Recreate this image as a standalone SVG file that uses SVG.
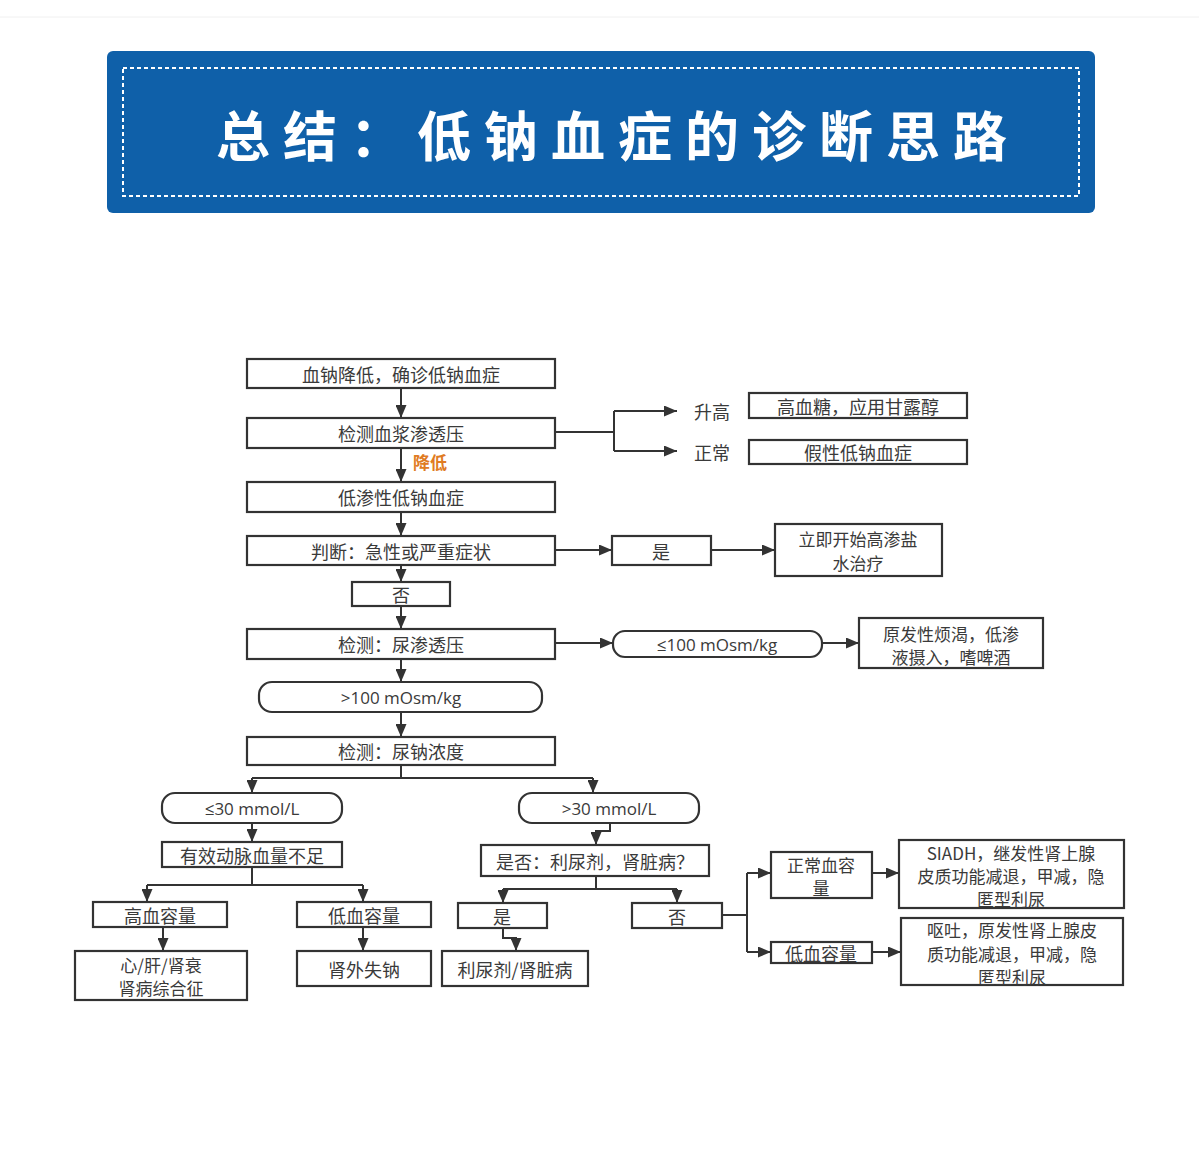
<svg xmlns="http://www.w3.org/2000/svg" width="1199" height="1171" viewBox="0 0 1199 1171">
<defs>
<marker id="ah" viewBox="0 0 13 11" refX="13" refY="5.5" markerWidth="13" markerHeight="11" markerUnits="userSpaceOnUse" orient="auto">
<path d="M0,0 L13,5.5 L0,11 Z" fill="#333"/>
</marker>
<style>
.box{fill:#fff;stroke:#333;stroke-width:2.2}
.t{font-family:"Noto Sans CJK SC","Noto Sans",sans-serif;font-size:18px;fill:#3a3a3a;text-anchor:middle;dominant-baseline:central}
.m{font-family:"Noto Sans CJK SC","Noto Sans",sans-serif;font-size:17px;fill:#3a3a3a;text-anchor:middle;dominant-baseline:central}
.l{font-family:"Open Sans","Noto Sans","Noto Sans CJK SC",sans-serif;font-size:17px;fill:#3a3a3a;text-anchor:middle;dominant-baseline:central}
.c{fill:none;stroke:#333;stroke-width:2}
.a{fill:none;stroke:#333;stroke-width:2;marker-end:url(#ah)}
</style>
</defs>
<rect width="1199" height="1171" fill="#fff"/>
<line x1="0" y1="17" x2="1199" y2="17" stroke="#f0f0f0" stroke-width="1"/>
<g id="header">
<rect x="107" y="51" width="988" height="162" rx="6" fill="#0f60a9"/>
<rect x="123" y="68" width="956" height="128" fill="none" stroke="#fff" stroke-width="2" stroke-dasharray="4 3"/>
<text x="216" y="133" font-family="'Noto Sans CJK SC',sans-serif" font-size="54" font-weight="700" fill="#fff" letter-spacing="13" dominant-baseline="central">总结：低钠血症的诊断思路</text>
</g>
<g id="connectors">
<path class="a" d="M401,388 V418"/>
<path class="a" d="M401,448 V482"/>
<path class="a" d="M401,512 V536"/>
<path class="a" d="M401,565 V582"/>
<path class="a" d="M401,606 V629"/>
<path class="a" d="M401,659 V682"/>
<path class="a" d="M401,712 V737"/>
<path class="c" d="M401,765 V778 M252,778 H593"/>
<path class="a" d="M252,778 V793"/>
<path class="a" d="M593,778 V793"/>
<path class="a" d="M252,823 V842"/>
<path class="c" d="M252,867 V885 M147,885 H363"/>
<path class="a" d="M147,885 V902"/>
<path class="a" d="M363,885 V902"/>
<path class="a" d="M163,927 V951"/>
<path class="a" d="M363,927 V951"/>
<path class="a" d="M610,823 V831 H596 V845"/>
<path class="c" d="M596,876 V889 M503,889 H677"/>
<path class="a" d="M503,889 V903"/>
<path class="a" d="M677,889 V903"/>
<path class="a" d="M503,928 V938 H516 V951"/>
<path class="c" d="M720,915 H747 M747,873 V952"/>
<path class="a" d="M747,873 H771"/>
<path class="a" d="M747,952 H771"/>
<path class="a" d="M872,873 H899"/>
<path class="a" d="M872,952 H901"/>
<path class="c" d="M555,432 H614 M614,411 V451"/>
<path class="a" d="M614,411 H677"/>
<path class="a" d="M614,451 H677"/>
<path class="a" d="M555,550 H612"/>
<path class="a" d="M711,550 H775"/>
<path class="a" d="M555,643 H613"/>
<path class="a" d="M822,643 H859"/>
</g>
<g id="n1"><rect class="box" x="247" y="359" width="308" height="29"/><text class="t" x="401" y="373.5">血钠降低，确诊低钠血症</text></g>
<g id="n2"><rect class="box" x="247" y="418" width="308" height="30"/><text class="t" x="401" y="433">检测血浆渗透压</text></g>
<g id="lbl-down"><text x="413" y="461" font-family="'Noto Sans CJK SC',sans-serif" font-size="17" font-weight="700" fill="#e07b22" dominant-baseline="central">降低</text></g>
<g id="n3"><rect class="box" x="247" y="482" width="308" height="30"/><text class="t" x="401" y="497">低渗性低钠血症</text></g>
<g id="n4"><rect class="box" x="247" y="536" width="308" height="29"/><text class="t" x="401" y="550.5">判断：急性或严重症状</text></g>
<g id="n5"><rect class="box" x="352" y="582" width="98" height="24"/><text class="t" x="401" y="594">否</text></g>
<g id="n6"><rect class="box" x="247" y="629" width="308" height="30"/><text class="t" x="401" y="644">检测：尿渗透压</text></g>
<g id="n7"><rect class="box" x="259" y="682" width="283" height="30" rx="13"/><text class="l" x="401" y="697">&gt;100 mOsm/kg</text></g>
<g id="n8"><rect class="box" x="247" y="737" width="308" height="28"/><text class="t" x="401" y="751">检测：尿钠浓度</text></g>
<g id="lbl-up"><text class="t" x="712" y="411">升高</text></g>
<g id="lbl-normal"><text class="t" x="712" y="452">正常</text></g>
<g id="n9"><rect class="box" x="749" y="393" width="218" height="25"/><text class="t" x="858" y="405.5">高血糖，应用甘露醇</text></g>
<g id="n10"><rect class="box" x="749" y="440" width="218" height="24"/><text class="t" x="858" y="452">假性低钠血症</text></g>
<g id="n11"><rect class="box" x="612" y="536" width="99" height="29"/><text class="t" x="661" y="550.5">是</text></g>
<g id="n12"><rect class="box" x="775" y="524" width="167" height="52"/><text class="m" x="858" y="538.5">立即开始高渗盐</text><text class="m" x="858" y="562">水治疗</text></g>
<g id="n13"><rect class="box" x="613" y="631" width="209" height="26" rx="12"/><text class="l" x="717" y="644">≤100 mOsm/kg</text></g>
<g id="n14"><rect class="box" x="859" y="618" width="184" height="50"/><text class="m" x="951" y="633">原发性烦渴，低渗</text><text class="m" x="951" y="656">液摄入，嗜啤酒</text></g>
<g id="n15"><rect class="box" x="162" y="793" width="180" height="30" rx="13"/><text class="l" x="252" y="808">≤30 mmol/L</text></g>
<g id="n16"><rect class="box" x="519" y="793" width="180" height="30" rx="13"/><text class="l" x="609" y="808">&gt;30 mmol/L</text></g>
<g id="n17"><rect class="box" x="162" y="842" width="180" height="25"/><text class="t" x="252" y="854.5">有效动脉血量不足</text></g>
<g id="n18"><rect class="box" x="481" y="845" width="228" height="31"/><text class="t" x="595" y="860.5">是否：利尿剂，肾脏病？</text></g>
<g id="n19"><rect class="box" x="93" y="902" width="134" height="25"/><text class="t" x="160" y="914.5">高血容量</text></g>
<g id="n20"><rect class="box" x="297" y="902" width="134" height="25"/><text class="t" x="364" y="914.5">低血容量</text></g>
<g id="n21"><rect class="box" x="458" y="903" width="89" height="25"/><text class="t" x="502" y="915.5">是</text></g>
<g id="n22"><rect class="box" x="632" y="903" width="90" height="25"/><text class="t" x="677" y="915.5">否</text></g>
<g id="n23"><rect class="box" x="75" y="951" width="172" height="49"/><text class="m" x="161" y="964">心/肝/肾衰</text><text class="m" x="161" y="987.5">肾病综合征</text></g>
<g id="n24"><rect class="box" x="297" y="951" width="134" height="35"/><text class="t" x="364" y="968.5">肾外失钠</text></g>
<g id="n25"><rect class="box" x="442" y="951" width="146" height="35"/><text class="t" x="515" y="968.5">利尿剂/肾脏病</text></g>
<g id="n26"><rect class="box" x="771" y="852" width="101" height="46"/><text class="m" x="821" y="864">正常血容</text><text class="m" x="821" y="887">量</text></g>
<g id="n27"><rect class="box" x="771" y="942" width="101" height="21"/><text class="t" x="821" y="952.5">低血容量</text></g>
<g id="n28"><rect class="box" x="899" y="840" width="225" height="68"/><text class="m" x="1011" y="852">SIADH，继发性肾上腺</text><text class="m" x="1011" y="875">皮质功能减退，甲减，隐</text><text class="m" x="1011" y="898">匿型利尿</text></g>
<g id="n29"><rect class="box" x="901" y="918" width="222" height="67"/><text class="m" x="1012" y="929.5">呕吐，原发性肾上腺皮</text><text class="m" x="1012" y="953">质功能减退，甲减，隐</text><text class="m" x="1012" y="976.5">匿型利尿</text></g>
</svg>
